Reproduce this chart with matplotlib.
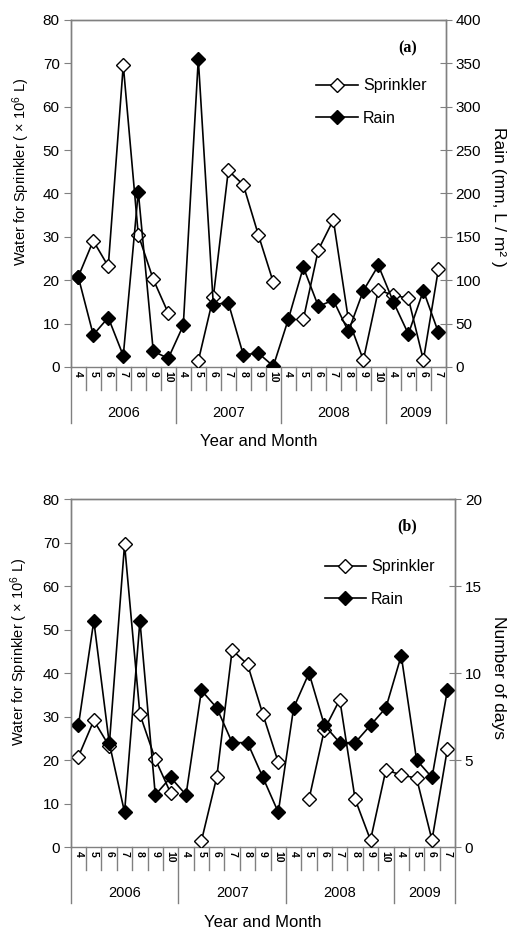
import numpy as np
import matplotlib
matplotlib.use("Agg")
import matplotlib.pyplot as plt

plt.rcParams['font.family'] = ['Liberation Sans', 'DejaVu Sans']
plt.rcParams['mathtext.fontset'] = 'custom'
plt.rcParams['mathtext.rm'] = 'Liberation Sans'
plt.rcParams['mathtext.it'] = 'Liberation Sans'

# categories
months = ["4", "5", "6", "7", "8", "9", "10",
          "4", "5", "6", "7", "8", "9", "10",
          "4", "5", "6", "7", "8", "9", "10",
          "4", "5", "6", "7"]
years = ["2006", "2007", "2008", "2009"]
year_len = [7, 7, 7, 4]

# water for sprinkler (x 10^6 L), nan = no data
sprinkler = [20.8, 29.1, 23.2, 69.6, 30.5, 20.2, 12.4,
             np.nan, 1.4, 16.1, 45.3, 42.0, 30.5, 19.5,
             np.nan, 11.0, 27.0, 33.9, 11.0, 1.6, 17.7,
             16.6, 15.8, 1.6, 22.5]

# rain amount (mm)
rain_mm = [104, 37, 57, 13, 202, 18, 10,
           48, 355, 72, 74, 14, 16, 1,
           55, 115, 70, 77, 41, 88, 117,
           75, 38, 88, 40]

# number of rain days
rain_days = [7, 13, 6, 2, 13, 3, 4,
             3, 9, 8, 6, 6, 4, 2,
             8, 10, 7, 6, 6, 7, 8,
             11, 5, 4, 9]

GRAY = "#808080"
x = np.arange(len(months))

fig = plt.figure(figsize=(5.09, 9.30), dpi=100)


def panel(rect, rain, rmax, rstep, rlabel, tag, tag_xy, leg_anchor, rlab_xy):
    ax = fig.add_axes(rect)
    ax2 = ax.twinx()
    l1, = ax.plot(x, sprinkler, color="black", lw=1.2, marker="D", ms=7.5,
                  mfc="white", mec="black", mew=1.0, label="Sprinkler")
    l2, = ax2.plot(x, rain, color="black", lw=1.2, marker="D", ms=7.5,
                   mfc="black", mec="black", label="Rain")
    ax.set_xlim(-0.5, len(x) - 0.5)
    ax.set_ylim(0, 80)
    ax.set_yticks(np.arange(0, 81, 10))
    ax2.set_ylim(0, rmax)
    ax2.set_yticks(np.arange(0, rmax + 1, rstep))
    for a in (ax, ax2):
        for s in a.spines.values():
            s.set_color(GRAY)
            s.set_linewidth(1.0)
        a.spines['bottom'].set_visible(False)
    ax.axhline(0, color=GRAY, lw=1.0, clip_on=False, zorder=1)
    ax.tick_params(axis='y', direction='out', length=5, color=GRAY,
                   labelsize=11, pad=3)
    ax2.tick_params(axis='y', direction='inout', length=8, color=GRAY,
                    labelsize=11, pad=3)
    ax.set_xticks(x)
    ax.set_xticklabels(months, rotation=-90, fontsize=7.5, fontweight='bold')
    ax.tick_params(axis='x', length=0, pad=3)

    # category separators
    tr = ax.get_xaxis_transform()
    bounds = np.cumsum([0] + year_len) - 0.5
    for b in np.arange(-0.5, len(x), 1.0):
        low = -0.161 if b in bounds else -0.066
        ax.plot([b, b], [0, low], color=GRAY, lw=1.0, transform=tr,
                clip_on=False)
    for i, yr in enumerate(years):
        c = (bounds[i] + bounds[i + 1]) / 2
        ax.text(c, -0.132, yr, transform=tr, ha='center', va='center',
                fontsize=10.5)
    ax.text(0.5, -0.216, "Year and Month", transform=ax.transAxes,
            ha='center', va='center', fontsize=12)

    ax.text(-0.133, 0.562, r"Water for Sprinkler ( $\times$ 10$^6$ L)",
            transform=ax.transAxes, rotation=90, ha='center', va='center',
            fontsize=10.5)
    ax.text(rlab_xy[0], rlab_xy[1], rlabel, transform=ax.transAxes,
            rotation=270, ha='center', va='center', fontsize=12.5)

    ax.text(tag_xy[0], tag_xy[1], tag, transform=ax.transAxes, ha='center',
            va='center', fontsize=11.5, fontweight='bold',
            family='Liberation Serif')
    ax2.legend([l1, l2], ["Sprinkler", "Rain"], loc='upper left',
               bbox_to_anchor=leg_anchor, frameon=False, fontsize=11.5,
               handlelength=2.6, handletextpad=0.3, labelspacing=1.1,
               borderaxespad=0)
    return ax


panel([0.139, 0.6054, 0.737, 0.3731], rain_mm, 400, 50,
      "Rain (mm, L / m\u00b2 )", "(a)", (0.897, 0.919), (0.638, 0.85),
      (1.139, 0.49))
panel([0.139, 0.0892, 0.755, 0.3742], rain_days, 20, 5,
      "Number of days", "(b)", (0.876, 0.92), (0.644, 0.845),
      (1.113, 0.486))

fig.savefig("out.png", dpi=100)
